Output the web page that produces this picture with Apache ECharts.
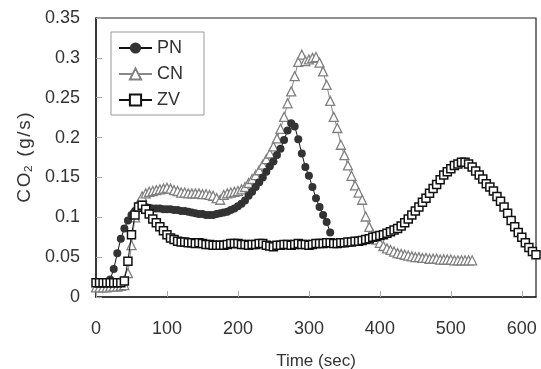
<!DOCTYPE html>
<html><head><meta charset="utf-8">
<script src="https://cdn.jsdelivr.net/npm/echarts@6/dist/echarts.min.js"></script>
<style>html,body{margin:0;padding:0;background:#fff}#c{width:541px;height:369px}</style>
</head><body><div id="c"></div>
<script>
const time = [0,5,10,15,20,25,30,35,40,45,50,55,60,65,70,75,80,85,90,95,100,105,110,115,120,125,130,135,140,145,150,155,160,165,170,175,180,185,190,195,200,205,210,215,220,225,230,235,240,245,250,255,260,265,270,275,280,285,290,295,300,305,310,315,320,325,330,335,340,345,350,355,360,365,370,375,380,385,390,395,400,405,410,415,420,425,430,435,440,445,450,455,460,465,470,475,480,485,490,495,500,505,510,515,520,525,530,535,540,545,550,555,560,565,570,575,580,585,590,595,600,605,610,615,620];

const pnValues = [0.017,0.017,0.017,0.018,0.022,0.035,0.055,0.073,0.086,0.096,0.103,0.108,0.111,0.113,0.113,0.112,0.111,0.111,0.111,0.110,0.110,0.110,0.109,0.109,0.108,0.108,0.107,0.106,0.105,0.104,0.104,0.103,0.103,0.103,0.104,0.105,0.106,0.107,0.109,0.111,0.114,0.117,0.121,0.127,0.132,0.138,0.144,0.150,0.157,0.164,0.170,0.178,0.186,0.197,0.209,0.218,0.214,0.198,0.180,0.163,0.152,0.138,0.124,0.113,0.103,0.094,0.081];

const cnValues = [0.012,0.012,0.012,0.012,0.013,0.013,0.013,0.014,0.015,0.030,0.065,0.100,0.118,0.126,0.130,0.132,0.133,0.134,0.135,0.136,0.137,0.136,0.134,0.133,0.131,0.131,0.130,0.130,0.130,0.130,0.129,0.129,0.128,0.127,0.124,0.122,0.128,0.130,0.131,0.132,0.133,0.135,0.138,0.143,0.148,0.153,0.159,0.166,0.173,0.180,0.189,0.199,0.211,0.226,0.243,0.258,0.277,0.295,0.304,0.296,0.298,0.300,0.301,0.294,0.283,0.266,0.246,0.226,0.212,0.191,0.178,0.165,0.152,0.140,0.131,0.122,0.101,0.088,0.079,0.072,0.068,0.064,0.061,0.059,0.057,0.055,0.054,0.053,0.052,0.051,0.050,0.050,0.049,0.049,0.048,0.048,0.048,0.047,0.047,0.047,0.047,0.046,0.046,0.046,0.046,0.046,0.046];

const zvValues = [0.018,0.018,0.018,0.018,0.018,0.018,0.018,0.018,0.020,0.045,0.078,0.103,0.113,0.115,0.110,0.104,0.098,0.093,0.088,0.083,0.078,0.074,0.072,0.070,0.069,0.069,0.068,0.068,0.067,0.068,0.067,0.066,0.066,0.065,0.065,0.065,0.065,0.066,0.067,0.067,0.067,0.066,0.066,0.065,0.066,0.066,0.067,0.067,0.065,0.064,0.063,0.065,0.065,0.066,0.066,0.065,0.066,0.067,0.066,0.066,0.065,0.066,0.067,0.067,0.067,0.068,0.068,0.067,0.067,0.068,0.068,0.069,0.069,0.070,0.070,0.071,0.072,0.073,0.075,0.076,0.077,0.078,0.080,0.082,0.084,0.086,0.089,0.093,0.098,0.103,0.108,0.113,0.119,0.124,0.130,0.136,0.141,0.147,0.153,0.157,0.161,0.165,0.167,0.169,0.169,0.167,0.163,0.158,0.153,0.148,0.142,0.138,0.133,0.126,0.120,0.113,0.105,0.096,0.088,0.081,0.075,0.068,0.062,0.057,0.053];

const seriesNames = ['PN','CN','ZV'];
const xTicks = [0,100,200,300,400,500,600];
const yTicks = [0,0.05,0.1,0.15,0.2,0.25,0.3,0.35];

function pairs(vals){ return vals.map((v,i)=>[time[i], v]); }

const FONT = '"Liberation Sans", Arial, sans-serif';
const TXT = '#333';
const chart = echarts.init(document.getElementById('c'), null, {renderer:'canvas'});
chart.setOption({
  animation:false,
  backgroundColor:'#fff',
  grid:{left:96, right:5, top:18, bottom:72, show:true, borderColor:'#222', borderWidth:1.2, backgroundColor:'transparent', containLabel:false, outerBoundsMode:'none'},
  legend:{
    orient:'vertical', left:111, top:32,
    padding:[7,21,6,7], itemGap:8, itemWidth:33, itemHeight:14,
    borderColor:'#999', borderWidth:1, backgroundColor:'#fff',
    textStyle:{fontFamily:FONT, fontSize:18, color:TXT},
    data:seriesNames
  },
  xAxis:{
    type:'value', min:xTicks[0], max:620, interval:100,
    name:'Time (sec)', nameLocation:'middle', nameGap:56,
    nameTextStyle:{fontFamily:FONT, fontSize:17, color:TXT},
    axisLine:{lineStyle:{color:'#222', width:1.5}},
    axisTick:{inside:true, length:6, lineStyle:{color:'#aaa'}},
    axisLabel:{fontFamily:FONT, fontSize:18, color:TXT, margin:23, showMaxLabel:false},
    splitLine:{show:false}
  },
  yAxis:{
    type:'value', min:yTicks[0], max:yTicks[yTicks.length-1], interval:0.05,
    name:'C\u200AO\u2082\u200A \u200A(\u200Ag\u200A/\u200As\u200A)', nameLocation:'middle', nameGap:61, nameRotate:90,
    nameTextStyle:{fontFamily:FONT, fontSize:19, color:TXT},
    axisLine:{lineStyle:{color:'#222', width:1.5}},
    axisTick:{inside:true, length:6, lineStyle:{color:'#aaa'}},
    axisLabel:{fontFamily:FONT, fontSize:18, color:TXT, margin:16},
    splitLine:{show:false}
  },
  series:[
    {name:'PN', type:'line', z:3, data:pairs(pnValues), symbol:'circle', symbolSize:8,
     lineStyle:{color:'#111', width:1}, itemStyle:{color:'#333', borderColor:'#333', borderWidth:0}},
    {name:'CN', type:'line', z:2, data:pairs(cnValues), symbol:'triangle', symbolSize:9,
     lineStyle:{color:'#888', width:1}, itemStyle:{color:'#fff', borderColor:'#808080', borderWidth:1.3}},
    {name:'ZV', type:'line', z:4, data:pairs(zvValues), symbol:'rect', symbolSize:8,
     lineStyle:{color:'#111', width:1}, itemStyle:{color:'#fff', borderColor:'#111', borderWidth:1.5}}
  ]
});
</script></body></html>
